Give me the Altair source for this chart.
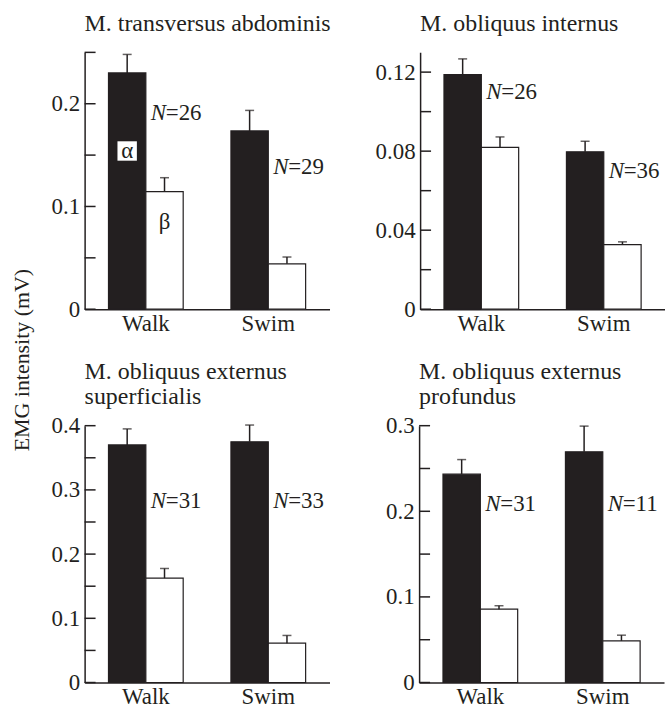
import altair as alt
import pandas as pd

# ---- data ----
conditions = ["Walk", "Swim"]
fibre_types = ["α", "β"]

muscles = [
    "M. transversus abdominis",
    "M. obliquus internus",
    ["M. obliquus externus", "superficialis"],
    ["M. obliquus externus", "profundus"],
]
# mean EMG intensity (mV): [Walk α, Walk β, Swim α, Swim β]
means = [
    [0.230, 0.1145, 0.1735, 0.0442],
    [0.1187, 0.0819, 0.0797, 0.0327],
    [0.370, 0.1626, 0.375, 0.0613],
    [0.2434, 0.0857, 0.2695, 0.0487],
]
# s.e.m. (upper error bar)
errors = [
    [0.018, 0.0135, 0.020, 0.0066],
    [0.0080, 0.0053, 0.0053, 0.0014],
    [0.025, 0.015, 0.026, 0.012],
    [0.017, 0.0040, 0.030, 0.0066],
]
# sample sizes [Walk, Swim]
n_values = [[26, 29], [26, 36], [31, 33], [31, 11]]
# data-space height of the N labels [Walk, Swim]
n_label_y = [[0.191, 0.138], [0.110, 0.070], [0.283, 0.283], [0.209, 0.209]]
# y domains, labelled ticks and all tick marks
y_max = [0.25, 0.13, 0.4, 0.3]
y_labels = [[0, 0.1, 0.2], [0, 0.04, 0.08, 0.12], [0, 0.1, 0.2, 0.3, 0.4], [0, 0.1, 0.2, 0.3]]
y_ticks = [
    [0, 0.05, 0.1, 0.15, 0.2, 0.25],
    [0, 0.02, 0.04, 0.06, 0.08, 0.10, 0.12],
    [0, 0.05, 0.1, 0.15, 0.2, 0.25, 0.3, 0.35, 0.4],
    [0, 0.05, 0.1, 0.15, 0.2, 0.25, 0.3],
]
# fibre-type labels drawn in the first panel (data-space height)
greek_label_y = [0.154, 0.085]

FONT = "Liberation Serif, Times New Roman, serif"
INK = "#231f20"
W, H = 246, 258
TITLE_OFFSET = [16, 16, 6, 6]


def panel(i):
    rows = []
    k = 0
    for c in conditions:
        for t in fibre_types:
            rows.append({"cond": c, "type": t, "mean": means[i][k],
                         "top": means[i][k] + errors[i][k]})
            k += 1
    df = pd.DataFrame(rows)
    ndf = pd.DataFrame({"cond": conditions, "n": [f"={v}" for v in n_values[i]],
                        "ny": n_label_y[i], "N": ["N", "N"]})
    tdf = pd.DataFrame({"v": y_ticks[i]})

    x = alt.X("cond:N", sort=conditions, title=None,
              scale=alt.Scale(paddingInner=0.39, paddingOuter=0.195),
              axis=alt.Axis(ticks=False, labelAngle=0, labelFont=FONT, labelFontSize=23,
                            labelColor=INK, labelPadding=3, domainColor=INK,
                            domainWidth=1.5))
    y_scale = alt.Scale(domain=[0, y_max[i]], nice=False, zero=True)
    y = alt.Y("mean:Q", title=None, scale=y_scale,
              axis=alt.Axis(values=y_labels[i], format="~g", ticks=False, grid=False,
                            labelFont=FONT, labelFontSize=23, labelColor=INK,
                            labelPadding=5, domainColor=INK, domainWidth=1.5))
    xo = alt.XOffset("type:N", sort=fibre_types,
                     scale=alt.Scale(paddingInner=0, paddingOuter=0))

    bars = alt.Chart(df).mark_bar(stroke=INK, strokeWidth=1.2).encode(
        x=x, xOffset=xo, y=y,
        fill=alt.Fill("type:N", scale=alt.Scale(domain=fibre_types, range=[INK, "white"]),
                      legend=None),
    )
    err = alt.Chart(df).mark_rule(color=INK, strokeWidth=1.5).encode(
        x=alt.X("cond:N", sort=conditions), xOffset=xo,
        y=alt.Y("mean:Q", scale=y_scale), y2="top:Q")
    cap = alt.Chart(df).mark_tick(color=INK, thickness=1.5, size=9).encode(
        x=alt.X("cond:N", sort=conditions), xOffset=xo,
        y=alt.Y("top:Q", scale=y_scale))
    ticks = alt.Chart(tdf).mark_rule(color=INK, strokeWidth=1.5).encode(
        y=alt.Y("v:Q", scale=y_scale), x=alt.value(0), x2=alt.value(11))
    n_italic = alt.Chart(ndf).mark_text(font=FONT, fontSize=23, fontStyle="italic",
                                        align="left", baseline="middle", dx=5,
                                        color=INK).encode(
        x=alt.X("cond:N", sort=conditions), y=alt.Y("ny:Q", scale=y_scale), text="N:N")
    n_num = alt.Chart(ndf).mark_text(font=FONT, fontSize=23, align="left",
                                     baseline="middle", dx=20, color=INK).encode(
        x=alt.X("cond:N", sort=conditions), y=alt.Y("ny:Q", scale=y_scale), text="n:N")
    layers = [bars, err, cap, ticks, n_italic, n_num]

    if i == 0:
        gdf = pd.DataFrame({"cond": ["Walk", "Walk"], "type": fibre_types,
                            "gy": greek_label_y})
        box = alt.Chart(gdf.iloc[[0]]).mark_point(shape="square", filled=True,
                                                  fill="white", opacity=1,
                                                  size=380).encode(
            x=alt.X("cond:N", sort=conditions), xOffset=xo,
            y=alt.Y("gy:Q", scale=y_scale))
        greek = alt.Chart(gdf).mark_text(font=FONT, fontSize=23, color=INK,
                                         baseline="middle").encode(
            x=alt.X("cond:N", sort=conditions), xOffset=xo,
            y=alt.Y("gy:Q", scale=y_scale), text="type:N")
        layers += [box, greek]

    return alt.layer(*layers).properties(
        width=W, height=H,
        title=alt.TitleParams(text=muscles[i], anchor="start", frame="group",
                              font=FONT, fontSize=24, fontWeight="normal",
                              color=INK, offset=TITLE_OFFSET[i], lineHeight=25),
    )


row1 = alt.hconcat(panel(0), panel(1), spacing=43)
row2 = alt.hconcat(panel(2), panel(3), spacing=56)
chart = alt.vconcat(row1, row2, spacing=25).properties(
    title=alt.TitleParams(text="EMG intensity (mV)", orient="left", anchor="middle",
                          font=FONT, fontSize=22, fontWeight="normal", color=INK,
                          offset=17),
    padding={"left": 11, "top": 10, "right": 0, "bottom": 0},
).configure(background="white", font=FONT).configure_view(strokeWidth=0)

chart.save("out.html", embed_options={"renderer": "svg", "actions": False})
